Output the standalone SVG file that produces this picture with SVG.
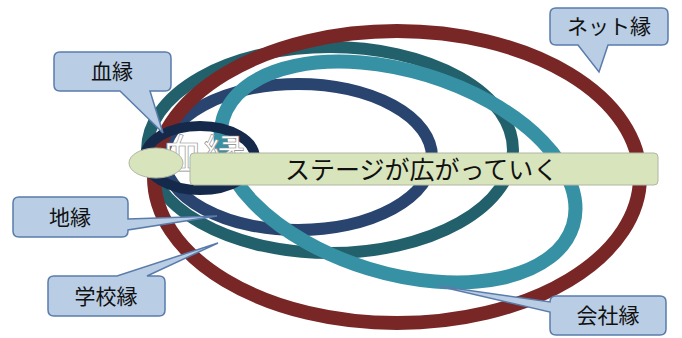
<svg xmlns="http://www.w3.org/2000/svg" width="682" height="338" viewBox="0 0 682 338">
<style>
.ring{fill:none}
.callout{fill:#b9cde5;stroke:#5a7cab;stroke-width:1.5}
.lbl{font-family:"Noto Sans CJK JP","Noto Sans",sans-serif;font-size:21px;fill:#111;text-anchor:middle}
.stage{fill:#d8e4bc;stroke:#b0b6a4;stroke-width:1}
</style>
<rect width="682" height="338" fill="#fff"/>
<g id="rings">
<ellipse id="school-ring" class="ring" cx="330" cy="150" rx="183" ry="103" stroke="#22616c" stroke-width="12"/>
<ellipse id="area-ring" class="ring" cx="298" cy="157" rx="134" ry="73" stroke="#29456f" stroke-width="12"/>
<ellipse id="company-ring" class="ring" cx="398" cy="172" rx="183" ry="101" transform="rotate(17 398 172)" stroke="#3791a4" stroke-width="14"/>
<ellipse id="net-ring" class="ring" cx="397" cy="177" rx="243" ry="146" stroke="#782726" stroke-width="14"/>
<ellipse id="blood-ring" class="ring" cx="200" cy="158" rx="55" ry="32" stroke="#15294a" stroke-width="10"/>
<text x="203" y="170" font-family="'Noto Sans CJK JP',sans-serif" font-size="42" fill="#fff" stroke="#888" stroke-width="0.6" text-anchor="middle">血縁</text>
</g>
<g id="stage">
<rect class="stage" x="190" y="153" width="468" height="32" rx="4"/>
<ellipse class="stage" cx="156" cy="163" rx="27" ry="15" stroke="none"/>
<text x="285" y="179" font-family="'Noto Sans CJK JP',sans-serif" font-size="25" fill="#111">ステージが広がっていく</text>
</g>
<g id="connectors"></g>
<g id="label-blood">
<path class="callout" d="M60,52 H165 Q171,52 171,58 V85 Q171,91 165,91 H150 L163,133 L120,91 H60 Q54,91 54,85 V58 Q54,52 60,52 Z"/>
<text class="lbl" x="112" y="79">血縁</text>
</g>
<g id="label-net">
<path class="callout" d="M556,8 H662 Q668,8 668,14 V39 Q668,45 662,45 H608 L599,72 L578,45 H556 Q550,45 550,39 V14 Q550,8 556,8 Z"/>
<text class="lbl" x="609" y="34">ネット縁</text>
</g>
<g id="label-area">
<path class="callout" d="M19,197 H122 Q128,197 128,203 V219 L217,216 L128,230 V231 Q128,237 122,237 H19 Q13,237 13,231 V203 Q13,197 19,197 Z"/>
<text class="lbl" x="70" y="225">地縁</text>
</g>
<g id="label-school">
<path class="callout" d="M54,276 H117 L218,243 L147,276 H159 Q165,276 165,282 V310 Q165,316 159,316 H54 Q48,316 48,310 V282 Q48,276 54,276 Z"/>
<text class="lbl" x="106" y="304">学校縁</text>
</g>
<g id="label-company">
<path class="callout" d="M556,296 H660 Q666,296 666,302 V329 Q666,335 660,335 H556 Q550,335 550,329 V312 L438,286 L550,302 Q550,296 556,296 Z"/>
<text class="lbl" x="608" y="323">会社縁</text>
</g>
</svg>
